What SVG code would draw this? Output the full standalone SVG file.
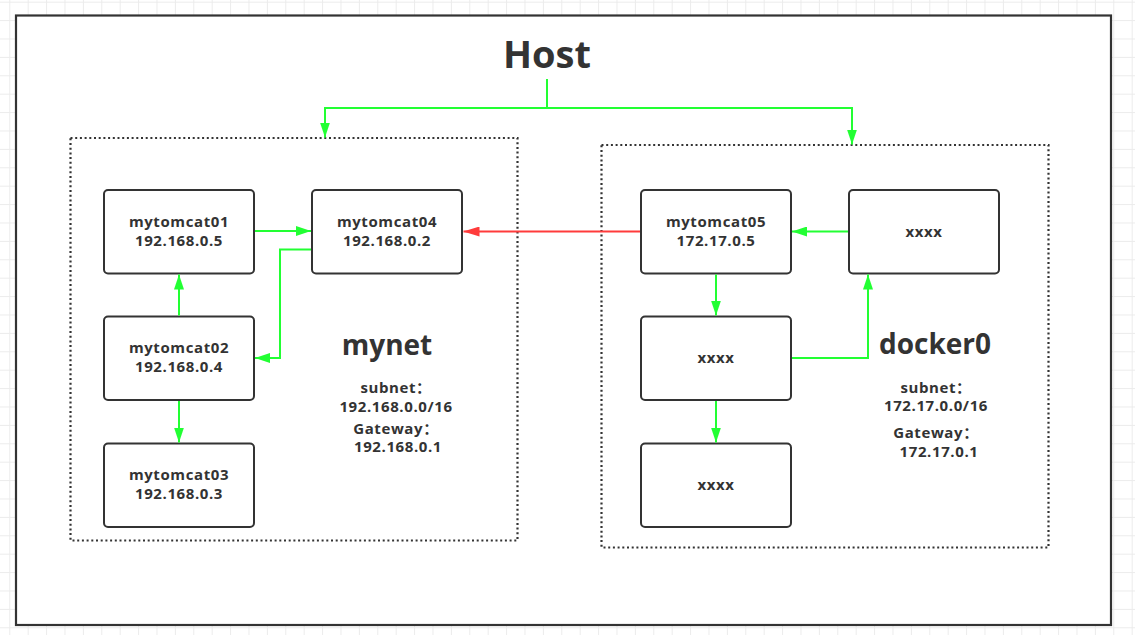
<svg xmlns="http://www.w3.org/2000/svg" width="1135" height="635" viewBox="0 0 1135 635">
  <defs>
    <pattern id="grid" patternUnits="userSpaceOnUse" x="9.3" y="1.7" width="18.4" height="18.4">
      <path d="M0,0.5 H18.4 M0.5,0 V18.4" fill="none" stroke="#ebebeb" stroke-width="1"/>
    </pattern>
    <marker id="ag" markerUnits="userSpaceOnUse" markerWidth="15" markerHeight="10" refX="15" refY="5" orient="auto">
      <path d="M0,0 L15,5 L0,10 z" fill="#22ff33"/>
    </marker>
    <marker id="ar" markerUnits="userSpaceOnUse" markerWidth="16" markerHeight="10" refX="16" refY="5" orient="auto">
      <path d="M0,0 L16,5 L0,10 z" fill="#ff3b3b"/>
    </marker>
  </defs>
  <style>
    .node { fill: #ffffff; stroke: #333333; stroke-width: 2; }
    .lbl { font-family: "Open Sans", "Noto Sans", "Noto Sans CJK SC", sans-serif; font-weight: 700; font-size: 15px; fill: #333333; text-anchor: middle; letter-spacing: 0.6px; }
    .big { font-family: "Open Sans", "Noto Sans", sans-serif; font-weight: 700; fill: #333333; text-anchor: middle; }
    .g { fill: none; stroke: #22ff33; stroke-width: 2; }
    .r { fill: none; stroke: #ff3b3b; stroke-width: 2; }
    .dot { fill: none; stroke: #333333; stroke-width: 2.2; stroke-dasharray: 2 2.7; }
  </style>
  <rect x="0" y="0" width="1135" height="635" fill="#ffffff"/>
  <rect x="0" y="0" width="1135" height="635" fill="url(#grid)"/>
  <rect id="frame" x="16" y="15.5" width="1095" height="609.5" fill="#ffffff" stroke="#333333" stroke-width="2.2"/>

  <g id="host-title">
    <text class="big" x="547" y="68" font-size="38">Host</text>
  </g>

  <g id="mynet">
    <rect class="dot" x="70.5" y="138" width="447" height="402.5"/>
    <text class="big" x="387" y="355" font-size="28">mynet</text>
    <text class="lbl" x="396" y="392.5">subnet：</text>
    <text class="lbl" x="396" y="411.5">192.168.0.0/16</text>
    <text class="lbl" x="396" y="433.5">Gateway：</text>
    <text class="lbl" x="398" y="452">192.168.0.1</text>
  </g>

  <g id="docker0">
    <rect class="dot" x="601.5" y="145" width="447" height="402.5"/>
    <text class="big" x="935" y="353.5" font-size="28">docker0</text>
    <text class="lbl" x="936" y="392.5">subnet：</text>
    <text class="lbl" x="936" y="411">172.17.0.0/16</text>
    <text class="lbl" x="936" y="437.5">Gateway：</text>
    <text class="lbl" x="939" y="456.5">172.17.0.1</text>
  </g>

  <g id="mytomcat01">
    <rect class="node" x="104" y="190" width="150" height="83.5" rx="4"/>
    <text class="lbl" x="179" y="226.5">mytomcat01</text>
    <text class="lbl" x="179" y="245.5">192.168.0.5</text>
  </g>
  <g id="mytomcat04">
    <rect class="node" x="312" y="190" width="150" height="83.5" rx="4"/>
    <text class="lbl" x="387" y="226.5">mytomcat04</text>
    <text class="lbl" x="387" y="245.5">192.168.0.2</text>
  </g>
  <g id="mytomcat02">
    <rect class="node" x="104" y="316.5" width="150" height="83.5" rx="4"/>
    <text class="lbl" x="179" y="353">mytomcat02</text>
    <text class="lbl" x="179" y="372">192.168.0.4</text>
  </g>
  <g id="mytomcat03">
    <rect class="node" x="104" y="443.5" width="150" height="83.5" rx="4"/>
    <text class="lbl" x="179" y="480">mytomcat03</text>
    <text class="lbl" x="179" y="499">192.168.0.3</text>
  </g>
  <g id="mytomcat05">
    <rect class="node" x="641" y="190" width="150" height="83.5" rx="4"/>
    <text class="lbl" x="716" y="226.5">mytomcat05</text>
    <text class="lbl" x="716" y="245.5">172.17.0.5</text>
  </g>
  <g id="xxxx-top">
    <rect class="node" x="849" y="190" width="150" height="83.5" rx="4"/>
    <text class="lbl" x="924" y="236.5">xxxx</text>
  </g>
  <g id="xxxx-mid">
    <rect class="node" x="641" y="316.5" width="150" height="83.5" rx="4"/>
    <text class="lbl" x="716" y="363">xxxx</text>
  </g>
  <g id="xxxx-bottom">
    <rect class="node" x="641" y="443.5" width="150" height="83.5" rx="4"/>
    <text class="lbl" x="716" y="490">xxxx</text>
  </g>

  <g id="connectors">
    <path class="g" d="M547,79 V108 H325 V137.5" marker-end="url(#ag)"/>
    <path class="g" d="M547,108 H852 V144.5" marker-end="url(#ag)"/>
    <path class="g" d="M255,231 H311" marker-end="url(#ag)"/>
    <path class="g" d="M311,249.5 H280 V358 H255" marker-end="url(#ag)"/>
    <path class="g" d="M179,315.5 V274.5" marker-end="url(#ag)"/>
    <path class="g" d="M179,401 V442.5" marker-end="url(#ag)"/>
    <path class="r" d="M640,231.5 H463.5" marker-end="url(#ar)"/>
    <path class="g" d="M848,231.5 H792" marker-end="url(#ag)"/>
    <path class="g" d="M716,274.5 V315.5" marker-end="url(#ag)"/>
    <path class="g" d="M792,358 H868 V274.5" marker-end="url(#ag)"/>
    <path class="g" d="M716,401 V442.5" marker-end="url(#ag)"/>
  </g>
</svg>
